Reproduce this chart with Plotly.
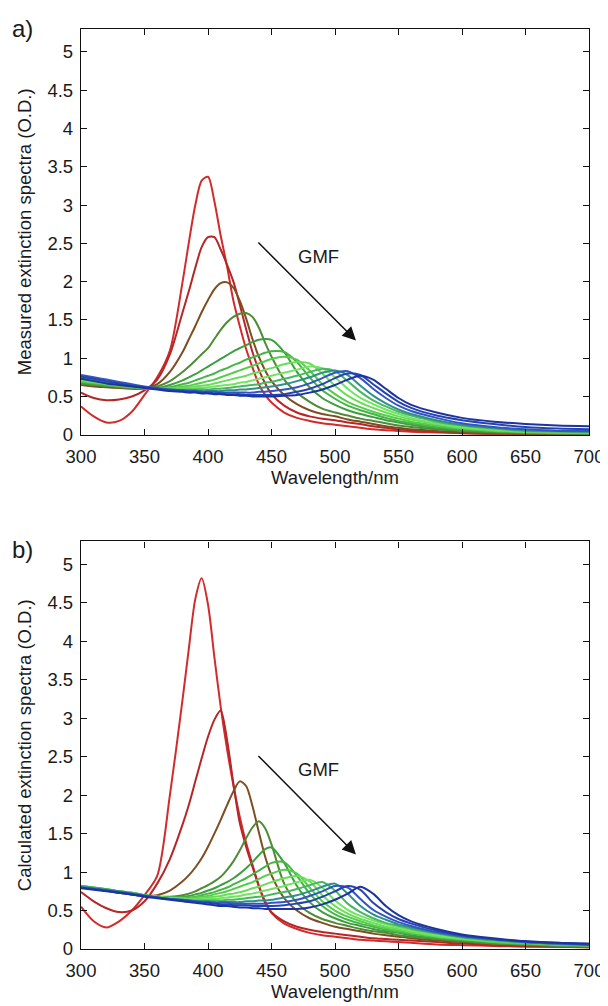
import plotly.graph_objects as go

# wavelength grid (nm), shared by every spectrum
wavelength = [300, 310, 320, 330, 340, 350, 360, 370, 380, 385, 390, 395, 400, 405, 410, 415, 420, 425, 430, 435,
              440, 445, 450, 460, 470, 480, 490, 500, 510, 520, 530, 540, 550, 560, 580, 600, 625, 650, 675, 700]

# a) measured extinction spectra (O.D.), increasing GMF
m01 = [0.37, 0.24, 0.16, 0.18, 0.30, 0.52, 0.75, 1.10, 2.00, 2.52, 3.00, 3.32, 3.37, 3.05, 2.60, 2.20, 1.75, 1.42, 1.12, 0.88,
       0.66, 0.52, 0.42, 0.29, 0.22, 0.18, 0.15, 0.13, 0.11, 0.09, 0.07, 0.06, 0.05, 0.04, 0.03, 0.02, 0.01, 0.01, 0.00, 0.00]
m02 = [0.55, 0.48, 0.45, 0.46, 0.50, 0.58, 0.72, 1.05, 1.60, 1.88, 2.18, 2.45, 2.58, 2.58, 2.42, 2.22, 2.00, 1.70, 1.38, 1.08,
       0.85, 0.67, 0.53, 0.38, 0.29, 0.24, 0.21, 0.19, 0.16, 0.14, 0.11, 0.09, 0.07, 0.06, 0.04, 0.02, 0.01, 0.01, 0.01, 0.00]
m03 = [0.65, 0.63, 0.62, 0.61, 0.60, 0.60, 0.66, 0.82, 1.08, 1.25, 1.42, 1.60, 1.76, 1.90, 1.98, 1.99, 1.92, 1.75, 1.52, 1.25,
       1.02, 0.84, 0.70, 0.52, 0.40, 0.32, 0.27, 0.24, 0.20, 0.17, 0.14, 0.11, 0.09, 0.07, 0.05, 0.03, 0.02, 0.01, 0.01, 0.01]
m04 = [0.67, 0.65, 0.64, 0.62, 0.61, 0.60, 0.63, 0.70, 0.82, 0.89, 0.97, 1.05, 1.13, 1.25, 1.37, 1.47, 1.54, 1.58, 1.59, 1.54,
       1.40, 1.20, 1.02, 0.72, 0.55, 0.43, 0.34, 0.29, 0.25, 0.21, 0.18, 0.15, 0.12, 0.10, 0.07, 0.05, 0.03, 0.02, 0.02, 0.01]
m05 = [0.68, 0.66, 0.64, 0.63, 0.61, 0.60, 0.61, 0.65, 0.71, 0.75, 0.79, 0.84, 0.89, 0.94, 0.99, 1.04, 1.09, 1.13, 1.17, 1.21,
       1.24, 1.25, 1.24, 1.08, 0.82, 0.62, 0.48, 0.39, 0.32, 0.27, 0.23, 0.19, 0.16, 0.13, 0.09, 0.06, 0.04, 0.03, 0.02, 0.02]
m06 = [0.69, 0.67, 0.65, 0.63, 0.62, 0.60, 0.60, 0.62, 0.66, 0.68, 0.71, 0.74, 0.77, 0.80, 0.84, 0.87, 0.91, 0.94, 0.98, 1.01,
       1.04, 1.07, 1.09, 1.08, 0.95, 0.75, 0.58, 0.47, 0.38, 0.32, 0.27, 0.22, 0.18, 0.15, 0.10, 0.07, 0.05, 0.03, 0.02, 0.02]
m07 = [0.70, 0.68, 0.66, 0.64, 0.62, 0.61, 0.60, 0.61, 0.63, 0.64, 0.66, 0.68, 0.70, 0.72, 0.75, 0.78, 0.81, 0.84, 0.87, 0.90,
       0.93, 0.96, 0.99, 1.02, 0.98, 0.84, 0.66, 0.53, 0.43, 0.36, 0.30, 0.25, 0.21, 0.17, 0.12, 0.08, 0.05, 0.04, 0.03, 0.02]
m08 = [0.71, 0.69, 0.67, 0.65, 0.63, 0.61, 0.60, 0.60, 0.61, 0.62, 0.63, 0.64, 0.65, 0.67, 0.69, 0.71, 0.73, 0.75, 0.77, 0.80,
       0.82, 0.85, 0.87, 0.92, 0.95, 0.93, 0.80, 0.64, 0.51, 0.42, 0.35, 0.29, 0.24, 0.20, 0.14, 0.09, 0.06, 0.04, 0.03, 0.03]
m09 = [0.72, 0.70, 0.68, 0.66, 0.63, 0.61, 0.60, 0.60, 0.60, 0.60, 0.61, 0.61, 0.62, 0.63, 0.64, 0.65, 0.66, 0.68, 0.69, 0.71,
       0.73, 0.75, 0.77, 0.81, 0.85, 0.89, 0.87, 0.75, 0.60, 0.48, 0.40, 0.33, 0.27, 0.22, 0.15, 0.10, 0.07, 0.05, 0.04, 0.03]
m10 = [0.73, 0.71, 0.68, 0.66, 0.64, 0.61, 0.60, 0.59, 0.59, 0.59, 0.59, 0.59, 0.59, 0.60, 0.60, 0.61, 0.62, 0.63, 0.64, 0.65,
       0.66, 0.68, 0.69, 0.73, 0.77, 0.82, 0.86, 0.83, 0.70, 0.56, 0.45, 0.37, 0.30, 0.25, 0.17, 0.12, 0.08, 0.05, 0.04, 0.03]
m11 = [0.74, 0.72, 0.69, 0.67, 0.64, 0.62, 0.60, 0.59, 0.58, 0.58, 0.58, 0.57, 0.57, 0.57, 0.57, 0.58, 0.58, 0.59, 0.59, 0.60,
       0.61, 0.62, 0.63, 0.66, 0.70, 0.75, 0.81, 0.84, 0.78, 0.64, 0.51, 0.41, 0.33, 0.27, 0.19, 0.13, 0.09, 0.06, 0.05, 0.04]
m12 = [0.78, 0.75, 0.72, 0.69, 0.66, 0.63, 0.61, 0.59, 0.58, 0.57, 0.57, 0.56, 0.56, 0.56, 0.55, 0.55, 0.55, 0.55, 0.55, 0.55,
       0.56, 0.56, 0.57, 0.59, 0.62, 0.67, 0.74, 0.81, 0.83, 0.74, 0.60, 0.48, 0.38, 0.31, 0.22, 0.15, 0.10, 0.07, 0.05, 0.05]
m13 = [0.76, 0.73, 0.70, 0.67, 0.64, 0.62, 0.60, 0.58, 0.57, 0.56, 0.56, 0.55, 0.55, 0.54, 0.54, 0.53, 0.53, 0.53, 0.52, 0.52,
       0.52, 0.52, 0.52, 0.53, 0.56, 0.60, 0.66, 0.74, 0.80, 0.78, 0.66, 0.54, 0.43, 0.35, 0.25, 0.19, 0.14, 0.10, 0.08, 0.07]
m14 = [0.73, 0.70, 0.67, 0.65, 0.63, 0.61, 0.59, 0.57, 0.56, 0.55, 0.55, 0.54, 0.54, 0.53, 0.53, 0.52, 0.52, 0.51, 0.51, 0.50,
       0.50, 0.50, 0.50, 0.51, 0.52, 0.55, 0.59, 0.65, 0.72, 0.77, 0.72, 0.60, 0.48, 0.39, 0.29, 0.22, 0.17, 0.14, 0.12, 0.11]

# b) calculated extinction spectra (O.D.), increasing GMF
c01 = [0.55, 0.36, 0.28, 0.36, 0.50, 0.70, 0.95, 2.00, 3.25, 3.92, 4.55, 4.82, 4.48, 3.80, 3.15, 2.60, 2.13, 1.72, 1.38, 1.10,
       0.82, 0.62, 0.47, 0.33, 0.26, 0.21, 0.18, 0.16, 0.14, 0.12, 0.11, 0.10, 0.09, 0.08, 0.06, 0.05, 0.04, 0.03, 0.03, 0.02]
c02 = [0.74, 0.62, 0.53, 0.48, 0.50, 0.62, 0.85, 1.17, 1.62, 1.88, 2.18, 2.48, 2.76, 2.98, 3.10, 2.72, 2.15, 1.64, 1.33, 1.07,
       0.82, 0.60, 0.48, 0.36, 0.29, 0.25, 0.22, 0.20, 0.18, 0.16, 0.14, 0.13, 0.12, 0.11, 0.09, 0.07, 0.05, 0.04, 0.03, 0.03]
c03 = [0.80, 0.78, 0.76, 0.73, 0.71, 0.69, 0.70, 0.76, 0.88, 0.96, 1.06, 1.18, 1.33, 1.50, 1.68, 1.87, 2.05, 2.18, 2.12, 1.86,
       1.52, 1.20, 0.96, 0.66, 0.50, 0.40, 0.34, 0.29, 0.26, 0.23, 0.20, 0.18, 0.16, 0.14, 0.11, 0.09, 0.07, 0.05, 0.04, 0.03]
c04 = [0.81, 0.78, 0.76, 0.74, 0.71, 0.69, 0.68, 0.68, 0.70, 0.72, 0.75, 0.79, 0.83, 0.88, 0.94, 1.03, 1.14, 1.28, 1.44, 1.58,
       1.66, 1.57, 1.36, 0.85, 0.60, 0.47, 0.39, 0.34, 0.30, 0.26, 0.23, 0.21, 0.18, 0.16, 0.13, 0.10, 0.07, 0.06, 0.04, 0.03]
c05 = [0.81, 0.79, 0.77, 0.74, 0.72, 0.69, 0.68, 0.67, 0.68, 0.69, 0.71, 0.73, 0.76, 0.79, 0.83, 0.87, 0.92, 0.98, 1.05, 1.13,
       1.22, 1.30, 1.32, 1.12, 0.82, 0.61, 0.48, 0.40, 0.34, 0.30, 0.26, 0.23, 0.21, 0.18, 0.14, 0.11, 0.08, 0.06, 0.05, 0.04]
c06 = [0.82, 0.79, 0.77, 0.75, 0.72, 0.70, 0.68, 0.67, 0.67, 0.67, 0.68, 0.70, 0.72, 0.74, 0.77, 0.80, 0.84, 0.88, 0.92, 0.97,
       1.02, 1.07, 1.12, 1.13, 0.95, 0.72, 0.56, 0.45, 0.38, 0.33, 0.29, 0.25, 0.22, 0.20, 0.15, 0.12, 0.09, 0.07, 0.05, 0.04]
c07 = [0.82, 0.80, 0.77, 0.75, 0.73, 0.70, 0.68, 0.67, 0.66, 0.66, 0.67, 0.68, 0.69, 0.71, 0.73, 0.75, 0.78, 0.81, 0.84, 0.87,
       0.91, 0.95, 0.98, 1.03, 0.98, 0.80, 0.62, 0.50, 0.42, 0.36, 0.31, 0.27, 0.24, 0.21, 0.16, 0.13, 0.09, 0.07, 0.06, 0.05]
c08 = [0.82, 0.80, 0.78, 0.75, 0.73, 0.70, 0.68, 0.66, 0.66, 0.65, 0.65, 0.66, 0.67, 0.68, 0.69, 0.71, 0.72, 0.74, 0.76, 0.79,
       0.81, 0.84, 0.87, 0.92, 0.95, 0.88, 0.70, 0.56, 0.46, 0.39, 0.34, 0.29, 0.26, 0.22, 0.17, 0.13, 0.10, 0.08, 0.06, 0.05]
c09 = [0.82, 0.80, 0.78, 0.75, 0.73, 0.70, 0.68, 0.66, 0.65, 0.65, 0.64, 0.64, 0.65, 0.65, 0.66, 0.67, 0.68, 0.69, 0.71, 0.72,
       0.74, 0.76, 0.78, 0.82, 0.87, 0.90, 0.80, 0.63, 0.51, 0.43, 0.37, 0.32, 0.28, 0.24, 0.18, 0.14, 0.11, 0.08, 0.06, 0.05]
c10 = [0.82, 0.80, 0.78, 0.75, 0.73, 0.70, 0.67, 0.65, 0.64, 0.64, 0.63, 0.63, 0.63, 0.63, 0.63, 0.64, 0.64, 0.65, 0.66, 0.67,
       0.68, 0.69, 0.71, 0.74, 0.78, 0.83, 0.87, 0.76, 0.59, 0.48, 0.40, 0.34, 0.30, 0.26, 0.20, 0.15, 0.11, 0.08, 0.06, 0.05]
c11 = [0.81, 0.79, 0.77, 0.75, 0.72, 0.70, 0.67, 0.65, 0.64, 0.63, 0.62, 0.62, 0.62, 0.61, 0.61, 0.61, 0.61, 0.61, 0.62, 0.62,
       0.63, 0.63, 0.64, 0.67, 0.70, 0.75, 0.81, 0.85, 0.72, 0.56, 0.45, 0.38, 0.32, 0.28, 0.21, 0.16, 0.12, 0.09, 0.07, 0.05]
c12 = [0.80, 0.78, 0.76, 0.74, 0.72, 0.69, 0.67, 0.65, 0.64, 0.63, 0.62, 0.61, 0.61, 0.60, 0.60, 0.60, 0.59, 0.59, 0.59, 0.59,
       0.59, 0.59, 0.60, 0.61, 0.64, 0.69, 0.75, 0.82, 0.80, 0.65, 0.51, 0.42, 0.35, 0.30, 0.22, 0.17, 0.13, 0.09, 0.07, 0.06]
c13 = [0.80, 0.78, 0.76, 0.73, 0.71, 0.69, 0.67, 0.65, 0.63, 0.62, 0.61, 0.60, 0.60, 0.59, 0.58, 0.58, 0.57, 0.57, 0.57, 0.56,
       0.56, 0.56, 0.56, 0.57, 0.59, 0.62, 0.68, 0.75, 0.82, 0.77, 0.60, 0.48, 0.39, 0.33, 0.24, 0.18, 0.13, 0.10, 0.08, 0.06]
c14 = [0.79, 0.77, 0.75, 0.73, 0.71, 0.68, 0.66, 0.64, 0.62, 0.61, 0.60, 0.59, 0.58, 0.57, 0.56, 0.56, 0.55, 0.54, 0.54, 0.53,
       0.53, 0.52, 0.52, 0.52, 0.52, 0.54, 0.58, 0.64, 0.72, 0.81, 0.72, 0.56, 0.44, 0.36, 0.26, 0.19, 0.14, 0.10, 0.08, 0.07]

measured = [m01, m02, m03, m04, m05, m06, m07, m08, m09, m10, m11, m12, m13, m14]
calculated = [c01, c02, c03, c04, c05, c06, c07, c08, c09, c10, c11, c12, c13, c14]

# red -> brown -> green -> blue, one per GMF step
colours = ["#d22b2b", "#b52626", "#7d4e22", "#4f8a36", "#3e9e3e", "#45b545", "#55cc4a", "#66de55",
           "#72e460", "#48b860", "#2f8f8a", "#3355c4", "#2743b2", "#1c34a0"]

FONT = "Liberation Sans, Arial, sans-serif"
TXT = "#1a1a1a"

fig = go.Figure()
for spec, col in zip(measured, colours):
    fig.add_trace(go.Scatter(x=wavelength, y=spec, mode="lines", xaxis="x", yaxis="y",
                             line=dict(color=col, width=2, shape="spline", smoothing=0.8)))
for spec, col in zip(calculated, colours):
    fig.add_trace(go.Scatter(x=wavelength, y=spec, mode="lines", xaxis="x2", yaxis="y2",
                             line=dict(color=col, width=2, shape="spline", smoothing=0.8)))

axis_style = dict(showgrid=False, zeroline=False, showline=True, linecolor="#111", linewidth=1.3,
                  mirror="ticks", ticks="inside", ticklen=6, tickwidth=1.2, tickcolor="#111",
                  tickfont=dict(family=FONT, size=18.5, color=TXT))
xstyle = dict(axis_style, range=[300, 700], tick0=300, dtick=50, ticklabelstandoff=5)
ystyle = dict(axis_style, range=[0, 5.3], tick0=0, dtick=0.5, ticklabelstandoff=3)
title_font = dict(family=FONT, size=18.5, color=TXT)

fig.update_layout(
    width=608, height=1006,
    margin=dict(l=73, r=16, t=21, b=65),
    paper_bgcolor="white", plot_bgcolor="white",
    showlegend=False,
    xaxis=dict(xstyle, domain=[0, 1], anchor="y",
               title=dict(text="Wavelength/nm", standoff=1, font=title_font)),
    yaxis=dict(ystyle, domain=[0.559, 1.0], anchor="x",
               title=dict(text="Measured extinction spectra (O.D.)", standoff=10, font=title_font)),
    xaxis2=dict(xstyle, domain=[0, 1], anchor="y2",
                title=dict(text="Wavelength/nm", standoff=1, font=title_font)),
    yaxis2=dict(ystyle, domain=[0.0, 0.443], anchor="x2",
                title=dict(text="Calculated extinction spectra (O.D.)", standoff=10, font=title_font)),
)

# panel letters
for lab, ypos in [("a)", 1.001), ("b)", 0.434)]:
    fig.add_annotation(text=lab, xref="paper", yref="paper", x=-0.139, y=ypos, xanchor="left", yanchor="middle",
                       showarrow=False, font=dict(family=FONT, size=24, color=TXT))

# GMF arrow and label in both panels
for xr, yr in [("x", "y"), ("x2", "y2")]:
    fig.add_annotation(text="GMF", xref=xr, yref=yr, x=487, y=2.33, showarrow=False,
                       font=dict(family=FONT, size=18.5, color=TXT))
    fig.add_annotation(text="", xref=xr, yref=yr, axref=xr, ayref=yr, x=516.5, y=1.23, ax=438.5, ay=2.53,
                       showarrow=True, arrowhead=2, arrowsize=1.8, arrowwidth=1.5, arrowcolor="#111")

fig.write_html("out.html")
